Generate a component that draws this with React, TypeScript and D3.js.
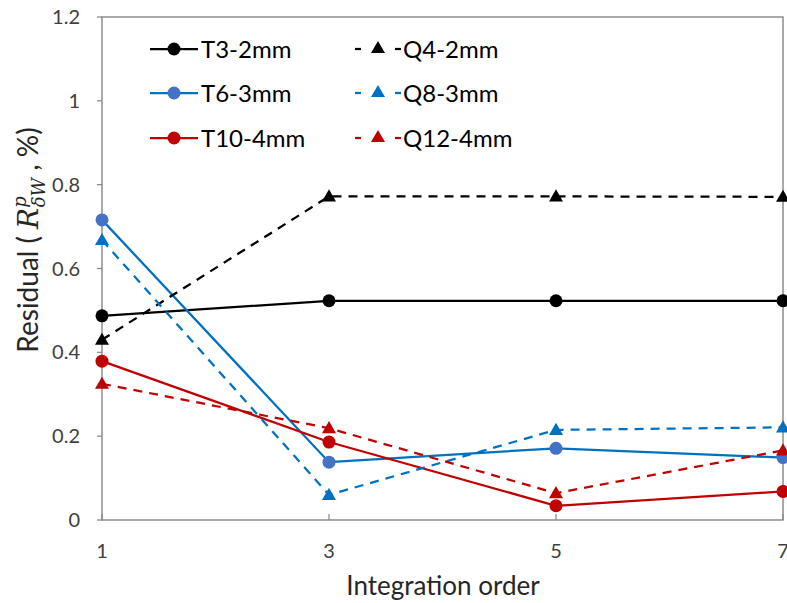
import React from 'react';
import * as d3 from 'd3';

// integration orders on the x axis
const orders = [1, 3, 5, 7];
const xTicks = [1, 3, 5, 7];
const yTicks = [0, 0.2, 0.4, 0.6, 0.8, 1, 1.2];

// residual values (%)
const t3 = [0.487, 0.523, 0.523, 0.523];
const q4 = [0.43, 0.772, 0.772, 0.771];
const t6 = [0.716, 0.138, 0.171, 0.149];
const q8 = [0.668, 0.06, 0.215, 0.221];
const t10 = [0.379, 0.186, 0.034, 0.068];
const q12 = [0.325, 0.219, 0.064, 0.166];

const seriesNames = ['T3-2mm', 'T6-3mm', 'T10-4mm', 'Q4-2mm', 'Q8-3mm', 'Q12-4mm'];

interface Series {
  name: string;
  values: number[];
  line: string;
  marker: string;
  dashed: boolean;
  shape: 'circle' | 'triangle';
}

const series: Series[] = [
  { name: seriesNames[0], values: t3, line: '#000000', marker: '#000000', dashed: false, shape: 'circle' },
  { name: seriesNames[1], values: t6, line: '#0070C0', marker: '#4472C4', dashed: false, shape: 'circle' },
  { name: seriesNames[2], values: t10, line: '#C00000', marker: '#C00000', dashed: false, shape: 'circle' },
  { name: seriesNames[3], values: q4, line: '#000000', marker: '#000000', dashed: true, shape: 'triangle' },
  { name: seriesNames[4], values: q8, line: '#0070C0', marker: '#0070C0', dashed: true, shape: 'triangle' },
  { name: seriesNames[5], values: q12, line: '#C00000', marker: '#C00000', dashed: true, shape: 'triangle' },
];

const W = 787;
const H = 603;
const left = 102;
const right = 783;
const top = 17;
const bottom = 520;
const font = 'Lato, "Open Sans", sans-serif';
const serif = "'DejaVu Serif', 'Liberation Serif', serif";
const dash = '9,7';

const App: React.FC = () => {
  const x = d3.scaleLinear().domain([1, 7]).range([left, right]);
  const y = d3.scaleLinear().domain([0, 1.2]).range([bottom, top]);

  const tri = d3.symbol().type(d3.symbolTriangle).size(85)()!;

  const lineGen = d3
    .line<number>()
    .x((_, i) => x(orders[i]))
    .y(d => y(d));

  const marker = (s: Series, cx: number, cy: number, key: string) =>
    s.shape === 'circle' ? (
      <circle key={key} cx={cx} cy={cy} r={6.5} fill={s.marker} />
    ) : (
      <path key={key} d={tri} transform={`translate(${cx},${cy + 1})`} fill={s.marker} />
    );

  // legend layout: T series in first column, Q series in second
  const legendRows = [49, 93, 138];

  return (
    <svg
      width={W}
      height={H}
      style={{ position: 'absolute', left: 0, top: 0, background: '#fff' }}
      fontFamily={font}
    >
      <rect x={0} y={0} width={W} height={H} fill="#fff" />

      {/* plot frame */}
      <rect x={left} y={top} width={right - left} height={bottom - top} fill="none" stroke="#858585" strokeWidth={1.4} />

      {/* y ticks and labels */}
      {yTicks.map(t => (
        <g key={`y${t}`}>
          <line x1={left - 5} x2={left} y1={y(t)} y2={y(t)} stroke="#858585" strokeWidth={1.2} />
          <text x={80} y={y(t)} dy="0.35em" textAnchor="end" fontSize={20} fill="#404040">
            {String(t)}
          </text>
        </g>
      ))}

      {/* x ticks and labels */}
      {xTicks.map(t => (
        <g key={`x${t}`}>
          <line x1={x(t)} x2={x(t)} y1={bottom - 6} y2={bottom} stroke="#858585" strokeWidth={1.2} />
          <text x={x(t)} y={558} textAnchor="middle" fontSize={20} fill="#404040">
            {t}
          </text>
        </g>
      ))}

      {/* axis titles */}
      <text x={443} y={595} textAnchor="middle" fontSize={26} fill="#262626">
        Integration order
      </text>
      <text transform="translate(38,240) rotate(-90)" textAnchor="middle" fontSize={28} fill="#262626">
        Residual (
        <tspan fontFamily={serif} fontStyle="italic" dx={7}>R</tspan>
        <tspan fontFamily={serif} fontStyle="italic" fontSize={18} dy={-12}>p</tspan>
        <tspan fontFamily={serif} fontStyle="italic" fontSize={18} dx={-11} dy={19}>δW</tspan>
        <tspan dy={-7}>{'  , %)'}</tspan>
      </text>

      {/* series lines */}
      {series.map(s => (
        <path
          key={`l${s.name}`}
          d={lineGen(s.values)!}
          fill="none"
          stroke={s.line}
          strokeWidth={2.25}
          strokeDasharray={s.dashed ? dash : undefined}
        />
      ))}

      {/* markers */}
      {series.map(s => (
        <g key={`m${s.name}`}>{s.values.map((v, i) => marker(s, x(orders[i]), y(v), `${s.name}${i}`))}</g>
      ))}

      {/* legend */}
      {series.map((s, i) => {
        const row = legendRows[i % 3];
        const col = i < 3 ? 0 : 1;
        if (col === 0) {
          return (
            <g key={`lg${s.name}`}>
              <line x1={150} x2={198} y1={row} y2={row} stroke={s.line} strokeWidth={2.25} />
              {marker(s, 174, row, `lgm${s.name}`)}
              <text x={201} y={row} dy="0.36em" fontSize={24} fill="#000">
                {s.name}
              </text>
            </g>
          );
        }
        return (
          <g key={`lg${s.name}`}>
            <line x1={355} x2={361} y1={row} y2={row} stroke={s.line} strokeWidth={2.25} />
            <line x1={395} x2={401} y1={row} y2={row} stroke={s.line} strokeWidth={2.25} />
            {marker(s, 378, row - 1, `lgm${s.name}`)}
            <text x={403} y={row} dy="0.36em" fontSize={24} fill="#000">
              {s.name}
            </text>
          </g>
        );
      })}
    </svg>
  );
};

export default App;
